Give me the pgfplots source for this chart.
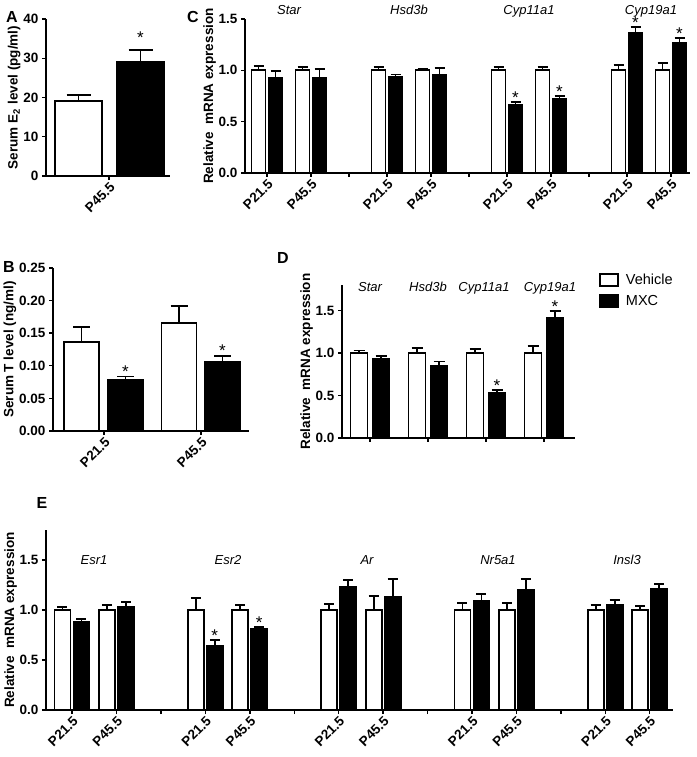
\documentclass[border=0pt]{standalone}
\usepackage{pgfplots}
\pgfplotsset{compat=1.18}
\usepackage{fontspec}
\setmainfont{Liberation Sans}

\tikzset{
  gene/.style={font=\fontsize{13}{15}\selectfont\itshape, anchor=base},
  sig/.style={font=\fontsize{17}{18}\selectfont, anchor=base, inner sep=0pt, yshift=-1.5pt},
}
\pgfplotsset{
  panel/.style={
    scale only axis, anchor=south west, enlargelimits=false, clip=false,
    axis lines*=left, axis line style={line width=1.4pt, -},
    tick align=outside, major tick length=4pt,
    tick style={line width=1.4pt, black},
    tick label style={font=\fontsize{13.5}{15}\selectfont\bfseries},
    /pgf/number format/assume math mode=true,
    ylabel style={font=\fontsize{13.5}{15}\selectfont\bfseries},
    ylabel shift=-4pt,
    ybar, bar shift=0pt,
    xticklabel style={rotate=45, anchor=north east, inner sep=1pt},
    ymin=0, xmin=0,
  },
  dec1/.style={yticklabel style={/pgf/number format/.cd, fixed, fixed zerofill, precision=1}},
  dec2/.style={yticklabel style={/pgf/number format/.cd, fixed, fixed zerofill, precision=2}},
  veh/.style={fill=white, draw=black, line width=1.8pt,
    error bars/y dir=plus, error bars/y explicit,
    error bars/error bar style={line width=1.8pt, black},
    error bars/error mark options={rotate=90, line width=1.8pt, mark size=#1, black}},
  mxc/.style={fill=black, draw=black, line width=1.8pt,
    error bars/y dir=plus, error bars/y explicit,
    error bars/error bar style={line width=1.8pt, black},
    error bars/error mark options={rotate=90, line width=1.8pt, mark size=#1, black}},
}

\begin{document}
\begin{tikzpicture}[x=1pt,y=1pt]
\path[use as bounding box] (0,0) rectangle (696,757);

% ---------------- Panel A ----------------
\begin{axis}[panel, at={(46pt,581pt)}, width=124pt, height=157pt,
  xmax=124, ymax=40, ytick={0,10,20,30,40}, bar width=47,
  xtick={63}, xticklabels={P45.5},
  ylabel={Serum E\textsubscript{2} level (pg/ml)}]
\addplot[veh=12pt] table[x=x,y=y,y error=e]{
x y e
32.5 19.1 1.5
};
\addplot[mxc=12pt] table[x=x,y=y,y error=e]{
x y e
94.5 29.0 3.1
};
\node[sig, yshift=7pt] at (axis cs:94.5,32.3) {*};
\end{axis}

% ---------------- Panel B ----------------
\begin{axis}[panel, dec2, at={(53pt,326pt)}, width=196pt, height=163pt,
  xmax=196, ymax=0.25, ytick={0,0.05,0.10,0.15,0.20,0.25}, bar width=35,
  xtick={51,148}, xticklabels={P21.5,P45.5},
  ylabel={Serum T level (ng/ml)}]
\addplot[veh=8.5pt] table[x=x,y=y,y error=e]{
x y e
28.5 0.136 0.023
126 0.166 0.026
};
\addplot[mxc=8.5pt] table[x=x,y=y,y error=e]{
x y e
72.5 0.079 0.0045
169.5 0.106 0.0095
};
\node[sig] at (axis cs:72.5,0.084) {*};
\node[sig] at (axis cs:169.5,0.116) {*};
\end{axis}

% ---------------- Panel C ----------------
\begin{axis}[panel, dec1, at={(245pt,584pt)}, width=445pt, height=154pt,
  xmax=445, ymax=1.5, ytick={0,0.5,1.0,1.5}, bar width=14,
  xtick={22,66,142,186,262,306,382,426},
  xticklabels={P21.5,P45.5,P21.5,P45.5,P21.5,P45.5,P21.5,P45.5},
  extra x ticks={104,224,344}, extra x tick labels={},
  ylabel={Relative\ \ mRNA expression}]
\addplot[veh=5pt] table[x=x,y=y,y error=e]{
x y e
13.5 1.0 0.04
57.5 1.0 0.03
133.5 1.0 0.035
177.5 1.0 0.01
253.5 1.0 0.035
297.5 1.0 0.03
373.5 1.0 0.055
417.5 1.0 0.07
};
\addplot[mxc=5pt] table[x=x,y=y,y error=e]{
x y e
30.5 0.925 0.065
74.5 0.925 0.09
150.5 0.935 0.025
194.5 0.955 0.065
270.5 0.667 0.028
314.5 0.72 0.032
390.5 1.36 0.065
434.5 1.265 0.05
};
\node[gene] at (axis cs:44,1.54) {Star};
\node[gene] at (axis cs:164,1.54) {Hsd3b};
\node[gene] at (axis cs:284,1.54) {Cyp11a1};
\node[gene] at (axis cs:406,1.54) {Cyp19a1};
\node[sig] at (axis cs:270.5,0.695) {*};
\node[sig] at (axis cs:314.5,0.752) {*};
\node[sig] at (axis cs:390.5,1.425) {*};
\node[sig] at (axis cs:434.5,1.315) {*};
\end{axis}

% ---------------- Panel D ----------------
\begin{axis}[panel, dec1, at={(342pt,319pt)}, width=233pt, height=153pt,
  xmax=233, ymax=1.8, ytick={0,0.5,1.0,1.5}, bar width=17,
  xtick={28,86,144,202}, xticklabels={,,,},
  ylabel={Relative\ \ mRNA expression},
  legend style={draw=none, fill=none, at={(1.09,1.1)}, anchor=north west,
    font=\fontsize{14.5}{16}\selectfont, row sep=5pt,
    /tikz/every odd column/.append style={column sep=5pt}},
  legend cell align=left]
\addplot[veh=5.5pt, legend image code/.code={\draw[fill=white,draw=black,line width=1.8pt] (0pt,-6pt) rectangle (18pt,6pt);}] table[x=x,y=y,y error=e]{
x y e
17 1.0 0.03
75 1.0 0.055
133 1.0 0.05
191 1.0 0.085
};
\addlegendentry{Vehicle}
\addplot[mxc=5.5pt, legend image code/.code={\draw[fill=black,draw=black,line width=1.8pt] (0pt,-6pt) rectangle (18pt,6pt);}] table[x=x,y=y,y error=e]{
x y e
39 0.925 0.04
97 0.845 0.055
155 0.53 0.038
213 1.41 0.08
};
\addlegendentry{MXC}
\node[gene] at (axis cs:28,1.72) {Star};
\node[gene] at (axis cs:86,1.72) {Hsd3b};
\node[gene] at (axis cs:142,1.72) {Cyp11a1};
\node[gene] at (axis cs:208,1.72) {Cyp19a1};
\node[sig] at (axis cs:155,0.568) {*};
\node[sig] at (axis cs:213,1.49) {*};
\end{axis}

% ---------------- Panel E ----------------
\begin{axis}[panel, dec1, at={(46pt,47pt)}, width=627pt, height=180pt,
  xmax=627, ymax=1.8, ytick={0,0.5,1.0,1.5}, bar width=16,
  xtick={26,70.5,159.3,203.8,292.6,337.1,425.9,470.4,559.2,603.7},
  xticklabels={P21.5,P45.5,P21.5,P45.5,P21.5,P45.5,P21.5,P45.5,P21.5,P45.5},
  extra x ticks={114.9,248.2,381.5,514.8}, extra x tick labels={},
  ylabel={Relative\ \ mRNA expression}]
\addplot[veh=5pt] table[x=x,y=y,y error=e]{
x y e
16.5 1.0 0.033
61 1.0 0.05
149.8 1.0 0.117
194.3 1.0 0.05
283.1 1.0 0.057
327.6 1.0 0.14
416.4 1.0 0.073
460.9 1.0 0.067
549.7 1.0 0.05
594.2 1.0 0.043
};
\addplot[mxc=5pt] table[x=x,y=y,y error=e]{
x y e
35.5 0.877 0.033
80 1.033 0.044
168.8 0.643 0.057
213.3 0.813 0.014
302.1 1.233 0.067
346.6 1.13 0.18
435.4 1.093 0.067
479.9 1.2 0.11
568.7 1.047 0.053
613.2 1.213 0.047
};
\node[gene] at (axis cs:48,1.45) {Esr1};
\node[gene] at (axis cs:182,1.45) {Esr2};
\node[gene] at (axis cs:321,1.45) {Ar};
\node[gene] at (axis cs:452,1.45) {Nr5a1};
\node[gene] at (axis cs:581,1.45) {Insl3};
\node[sig] at (axis cs:168.8,0.70) {*};
\node[sig] at (axis cs:213.3,0.827) {*};
\end{axis}

% panel letters
\node[font=\fontsize{16}{18}\selectfont\bfseries] at (12,740) {A};
\node[font=\fontsize{16}{18}\selectfont\bfseries] at (9,490) {B};
\node[font=\fontsize{16}{18}\selectfont\bfseries] at (193,740) {C};
\node[font=\fontsize{16}{18}\selectfont\bfseries] at (283,499) {D};
\node[font=\fontsize{16}{18}\selectfont\bfseries] at (42,254) {E};
\end{tikzpicture}
\end{document}
